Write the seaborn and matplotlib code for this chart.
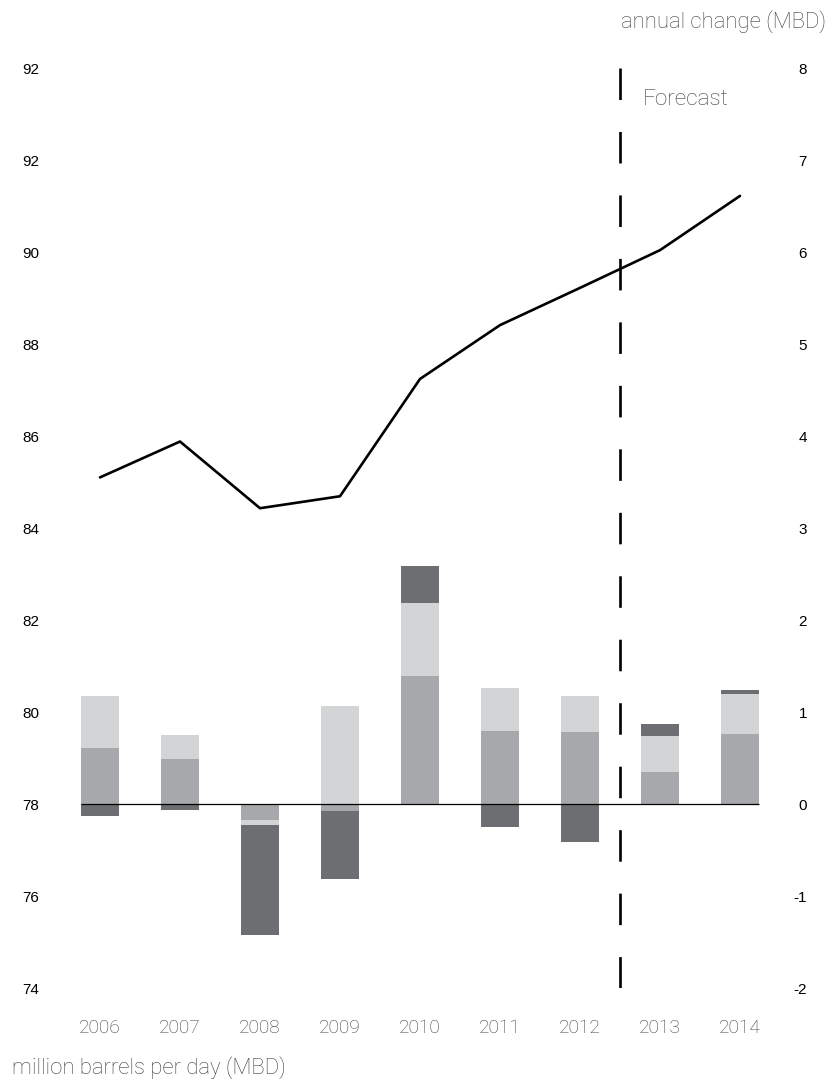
import numpy as np
import pandas as pd
import matplotlib
matplotlib.use("Agg")
import matplotlib.pyplot as plt
import seaborn as sns

# ---------------- data ----------------
years = ["2006", "2007", "2008", "2009", "2010", "2011", "2012", "2013", "2014"]
demand_mbd = [85.10, 85.88, 84.43, 84.69, 87.24, 88.41, 89.22, 90.04, 91.22]
change_mid = [0.61, 0.49, -0.17, -0.08, 1.39, 0.79, 0.78, 0.35, 0.76]
change_light = [0.56, 0.26, -0.06, 1.07, 0.79, 0.47, 0.39, 0.39, 0.435]
change_dark = [-0.13, -0.06, -1.19, -0.73, 0.41, -0.25, -0.41, 0.13, 0.04]
forecast_start = "2013"

left_ticks = [74, 76, 78, 80, 82, 84, 86, 88, 90, 92, 94]
left_labels = ["74", "76", "78", "80", "82", "84", "86", "88", "90", "92", "92"]
right_ticks = [-2, -1, 0, 1, 2, 3, 4, 5, 6, 7, 8]
right_labels = ["-2", "-1", "0", "1", "2", "3", "4", "5", "6", "7", "8"]

# ---------------- style ----------------
sns.set_theme(style="white")
plt.rcParams["font.family"] = ["Liberation Sans", "DejaVu Sans"]
plt.rcParams["lines.scale_dashes"] = False

C_DARK = "#6d6e72"
C_MID = "#a7a8ab"
C_LIGHT = "#d3d4d6"
C_TEXT = "#3f4042"
TEXT_FONT = ["Roboto", "Liberation Sans", "DejaVu Sans"]
TEXT_WEIGHT = "light"

W, H = 834, 1081
fig = plt.figure(figsize=(W / 100, H / 100), dpi=100)
ax = fig.add_axes([60 / W, 1 - 988 / H, 720 / W, 920 / H])
ax2 = ax.twinx()

n = len(years)
bar_w = 0.475

# stacked (diverging) bars on the right axis: overpaint cumulative totals
vals = np.array([change_mid, change_light, change_dark])
colors = [C_MID, C_LIGHT, C_DARK]
pos_cum = np.clip(vals, 0, None).cumsum(axis=0)
neg_cum = np.clip(vals, None, 0).cumsum(axis=0)
for i in reversed(range(3)):
    for arr in (pos_cum[i], neg_cum[i]):
        sns.barplot(x=years, y=arr, color=colors[i], saturation=1, width=bar_w,
                    errorbar=None, linewidth=0, edgecolor="none", ax=ax2)

ax2.hlines(0, -bar_w / 2, n - 1 + bar_w / 2, color="black", lw=0.9, zorder=5)

# forecast divider
xf = years.index(forecast_start) - 0.5
ax2.plot([xf, xf], [right_ticks[-1], right_ticks[0]], color="black", lw=1.9,
         dashes=(22.7, 23.0), solid_capstyle="butt", dash_capstyle="butt", zorder=6)
ax2.annotate("Forecast", xy=(xf, right_ticks[-1]), xytext=(16.5, -23),
             textcoords="offset points", ha="left", va="center",
             fontsize=16.2, color=C_TEXT, family=TEXT_FONT, fontweight=TEXT_WEIGHT)

# total demand line on the left axis
line_df = pd.DataFrame({"pos": np.arange(n), "demand": demand_mbd})
sns.lineplot(data=line_df, x="pos", y="demand", color="black", lw=1.9, ax=ax)

# axes limits / ticks
for a in (ax, ax2):
    a.set_xlim(-0.5, n - 0.5)
    for s in a.spines.values():
        s.set_visible(False)
    a.set_xlabel("")
    a.set_ylabel("")
ax.set_ylim(left_ticks[0], left_ticks[-1])
ax2.set_ylim(right_ticks[0], right_ticks[-1])

ax.set_yticks(left_ticks, labels=left_labels)
ax2.set_yticks(right_ticks, labels=right_labels)
ax.set_xticks(np.arange(n), labels=years)

ax.tick_params(axis="y", length=0, pad=15, labelsize=11, labelcolor="black")
ax2.tick_params(axis="y", length=0, pad=19.5, labelsize=11, labelcolor="black")
for lbl in ax2.get_yticklabels():
    lbl.set_horizontalalignment("right")
ax.tick_params(axis="x", length=0, pad=22.5, labelsize=13.8, labelcolor=C_TEXT)
for lbl in ax.get_xticklabels():
    lbl.set_family(TEXT_FONT)
    lbl.set_fontweight(TEXT_WEIGHT)

fig.text(826 / W, 1 - 22 / H, "annual change (MBD)", ha="right", va="center",
         fontsize=15.9, color=C_TEXT, family=TEXT_FONT, fontweight=TEXT_WEIGHT)
fig.text(12 / W, 1 - 1068 / H, "million barrels per day (MBD)", ha="left", va="center",
         fontsize=15.9, color=C_TEXT, family=TEXT_FONT, fontweight=TEXT_WEIGHT)

fig.savefig("out.png", dpi=100, facecolor="white")
